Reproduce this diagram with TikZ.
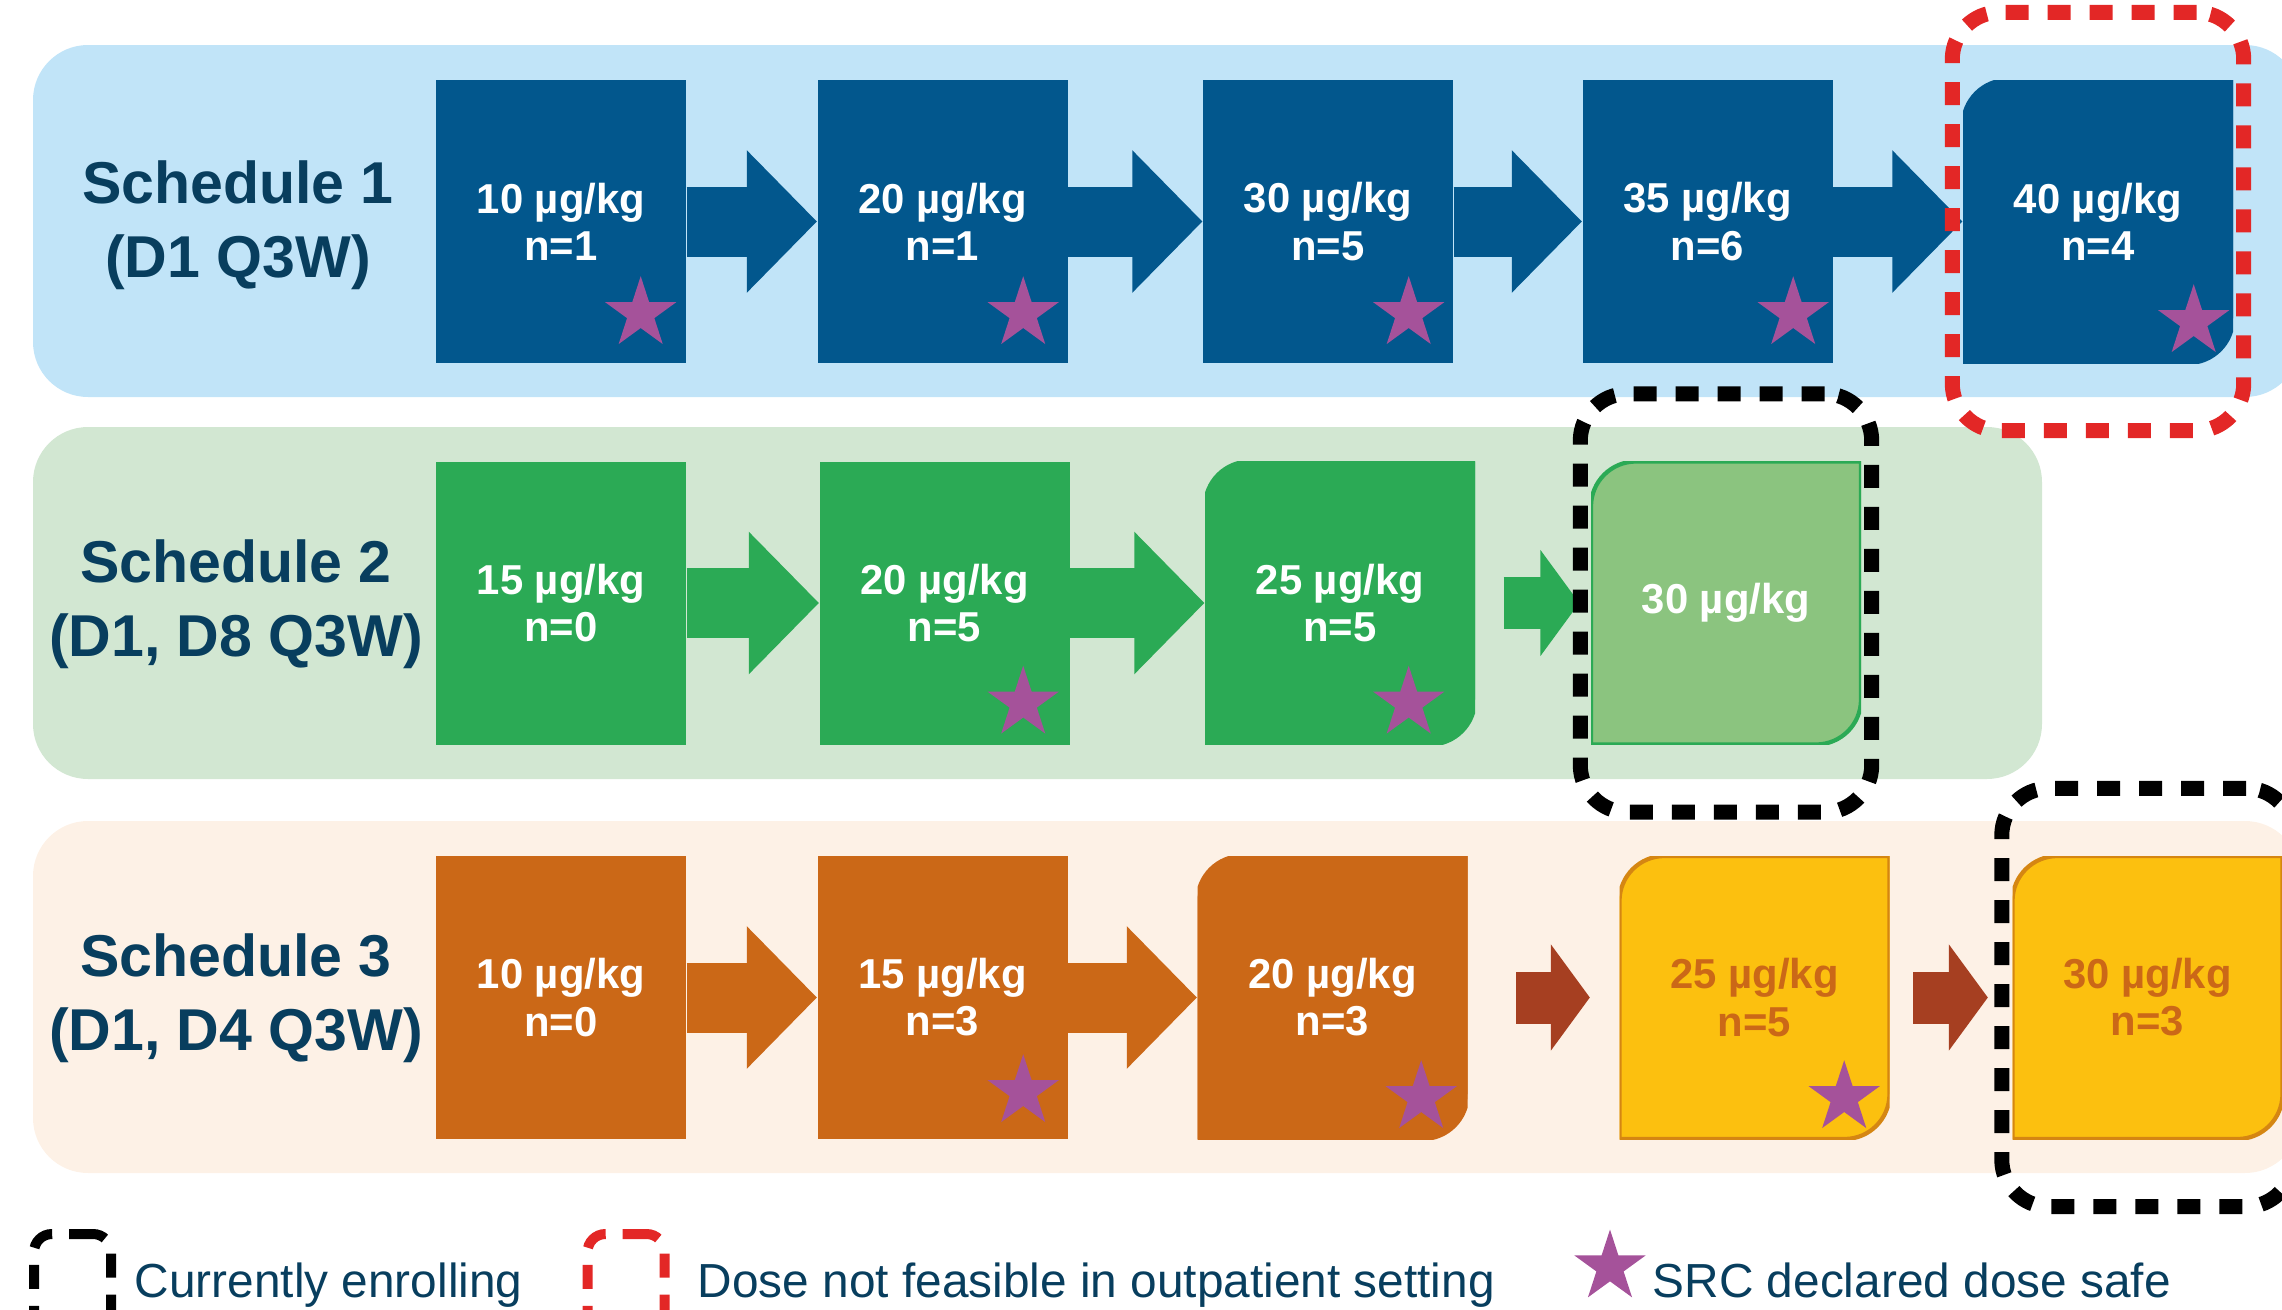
\documentclass[tikz,border=0pt]{standalone}
\usepackage{fontspec}
\setmainfont{Liberation Sans}
\usetikzlibrary{positioning,fit,calc,shapes.geometric,arrows.meta}

\definecolor{laneblue}{RGB}{193,228,248}
\definecolor{lanegreen}{RGB}{210,231,210}
\definecolor{lanepeach}{RGB}{253,241,230}
\definecolor{doseblue}{RGB}{2,87,141}
\definecolor{dosegreen}{RGB}{43,170,85}
\definecolor{dosepale}{RGB}{139,196,127}
\definecolor{doseorange}{RGB}{203,104,23}
\definecolor{doseyellow}{RGB}{252,192,15}
\definecolor{steprust}{RGB}{166,63,33}
\definecolor{safepurple}{RGB}{165,82,154}
\definecolor{keyred}{RGB}{227,39,38}
\definecolor{labelnavy}{RGB}{8,62,94}

\begin{document}
\begin{tikzpicture}[
  dose/.style={
    minimum width=2.5cm,
    minimum height=2.83cm,
    inner sep=0pt,
    align=center,
    text=white,
    font=\fontsize{11.9}{13.4}\selectfont\bfseries
  },
  leaf/.style 2 args={
    dose,
    minimum width=2.7cm,
    draw,
    draw opacity=0,
    path picture={
      \filldraw[fill=#1, draw=#2, draw opacity=1, line width=1.2pt]
        ([xshift=0.45cm]path picture bounding box.north west)
        -- (path picture bounding box.north east)
        -- ([yshift=0.45cm]path picture bounding box.south east)
        arc[start angle=0, end angle=-90, radius=0.45cm]
        -- (path picture bounding box.south west)
        -- ([yshift=-0.45cm]path picture bounding box.north west)
        arc[start angle=180, end angle=90, radius=0.45cm]
        -- cycle;
    }
  },
  lanelabel/.style={
    align=center,
    text=labelnavy,
    font=\fontsize{16.8}{21}\selectfont\bfseries
  },
  flow/.style={
    line width=0.7cm,
    -{Triangle[width=1.42cm, length=0.7cm, line width=0.8pt]}
  },
  hop/.style={
    line width=0.52cm,
    -{Triangle[width=1.06cm, length=0.39cm, line width=0.8pt]}
  },
  safe/.style={
    star,
    star points=5,
    star point ratio=2.618,
    minimum size=0.75cm,
    inner sep=0pt,
    fill=safepurple
  },
  cohortframe/.style={
    draw,
    line width=0.15cm,
    dash pattern=on 0.23cm off 0.19cm,
    rounded corners=0.47cm,
    inner xsep=0.1cm,
    inner ysep=0.67cm
  },
  keybox/.style={
    draw,
    line width=0.1cm,
    dash pattern=on 0.24cm off 0.17cm,
    rounded corners=0.18cm,
    minimum width=0.77cm,
    minimum height=1.5cm
  },
  keytext/.style={
    anchor=base west,
    inner sep=0pt,
    text=labelnavy,
    font=\fontsize{13.6}{16}\selectfont
  }
]
\useasboundingbox (0,0) rectangle (22.82,-13.10);
\clip (0,0) rectangle (22.82,-13.10);

% lanes behind each schedule
\fill[laneblue, rounded corners=0.55cm] (0.33,-0.45) rectangle (23.0,-3.97);
\fill[lanegreen, rounded corners=0.55cm] (0.33,-4.27) rectangle (20.42,-7.79);
\fill[lanepeach, rounded corners=0.55cm] (0.33,-8.21) rectangle (23.0,-11.73);

\node[lanelabel] (lbl1) at (2.38,-2.25) {Schedule 1\\(D1 Q3W)};
\node[lanelabel] (lbl2) at (2.36,-6.04) {Schedule 2\\(D1, D8 Q3W)};
\node[lanelabel] (lbl3) at (2.36,-9.98) {Schedule 3\\(D1, D4 Q3W)};

% schedule 1
\node[dose, fill=doseblue] (b11) at (5.61,-2.215) {10 µg/kg\\n=1};
\node[dose, fill=doseblue] (b12) at (9.425,-2.215) {20 µg/kg\\n=1};
\node[dose, fill=doseblue] (b13) at (13.28,-2.215) {30 µg/kg\\n=5};
\node[dose, fill=doseblue] (b14) at (17.075,-2.215) {35 µg/kg\\n=6};
\node[leaf={doseblue}{doseblue}] (b15) at (20.98,-2.215) {40 µg/kg\\n=4};

% schedule 2
\node[dose, fill=dosegreen] (b21) at (5.61,-6.03) {15 µg/kg\\n=0};
\node[dose, fill=dosegreen] (b22) at (9.445,-6.03) {20 µg/kg\\n=5};
\node[leaf={dosegreen}{dosegreen}] (b23) at (13.40,-6.03) {25 µg/kg\\n=5};
\node[leaf={dosepale}{dosegreen}] (b24) at (17.26,-6.03) {30 µg/kg};

% schedule 3
\node[dose, fill=doseorange] (b31) at (5.61,-9.975) {10 µg/kg\\n=0};
\node[dose, fill=doseorange] (b32) at (9.425,-9.975) {15 µg/kg\\n=3};
\node[leaf={doseorange}{doseorange}] (b33) at (13.325,-9.975) {20 µg/kg\\n=3};
\node[leaf={doseyellow}{doseorange!80!yellow}, text=doseorange] (b34) at (17.545,-9.975) {25 µg/kg\\n=5};
\node[leaf={doseyellow}{doseorange!80!yellow}, text=doseorange] (b35) at (21.475,-9.975) {30 µg/kg\\n=3};

% escalation steps
\draw[flow, doseblue] (b11) -- (b12);
\draw[flow, doseblue] (b12) -- (b13);
\draw[flow, doseblue] (b13) -- (b14);
\draw[flow, doseblue] (b14) -- (b15);
\draw[flow, dosegreen] (b21) -- (b22);
\draw[flow, dosegreen] (b22) -- (b23);
\draw[hop, dosegreen, shorten <=0.28cm, shorten >=0.11cm] (b23) -- (b24);
\draw[flow, doseorange] (b31) -- (b32);
\draw[flow, doseorange] (b32) -- (b33);
\draw[hop, steprust, shorten <=0.48cm, shorten >=0.29cm] (b33) -- (b34);
\draw[hop, steprust, shorten <=0.23cm, shorten >=0.24cm] (b34) -- (b35);

% SRC stars
\node[safe] (s11) at ($(b11.south east)+(-0.46,0.50)$) {};
\node[safe] (s12) at ($(b12.south east)+(-0.45,0.50)$) {};
\node[safe] (s13) at ($(b13.south east)+(-0.45,0.50)$) {};
\node[safe] (s14) at ($(b14.south east)+(-0.40,0.50)$) {};
\node[safe] (s15) at ($(b15.south east)+(-0.40,0.42)$) {};
\node[safe] (s22) at ($(b22.south east)+(-0.47,0.42)$) {};
\node[safe] (s23) at ($(b23.south east)+(-0.67,0.42)$) {};
\node[safe] (s32) at ($(b32.south east)+(-0.45,0.48)$) {};
\node[safe] (s33) at ($(b33.south east)+(-0.47,0.42)$) {};
\node[safe] (s34) at ($(b34.south east)+(-0.46,0.42)$) {};

% enrolling / not feasible frames
\node[cohortframe, draw=keyred, fit=(b15)] (infeas) {};
\node[cohortframe, draw=black, fit=(b24)] (enrol2) {};
\node[cohortframe, draw=black, fit=(b35)] (enrol3) {};

% key
\node[keybox, draw=black] (keyenrol) at (0.725,-13.09) {};
\node[keytext] (txtenrol) at (1.34,-12.97) {Currently enrolling};
\node[keybox, draw=keyred] (keyinfeas) at (6.26,-13.09) {};
\node[keytext] (txtinfeas) at (6.97,-12.97) {Dose not feasible in outpatient setting};
\node[safe] (keysafe) at (16.10,-12.67) {};
\node[keytext] (txtsafe) at (16.52,-12.97) {SRC declared dose safe};
\end{tikzpicture}
\end{document}
